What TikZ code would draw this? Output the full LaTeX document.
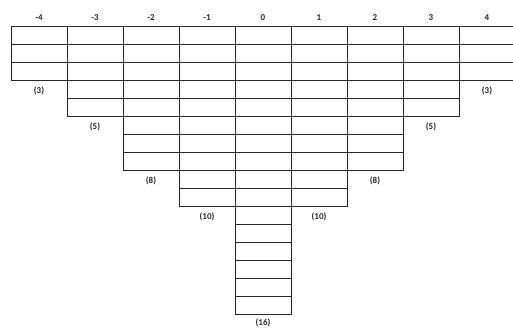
\documentclass[tikz,border=0pt]{standalone}
\usepackage{fontspec}
\setmainfont{Carlito}
\begin{document}
\begin{tikzpicture}[x=1pt,y=-1pt,
  cell/.style={draw=black!85,line width=0.8pt,rectangle,minimum width=56pt,minimum height=18pt,inner sep=0pt,outer sep=0pt},
  lbl/.style={font=\fontsize{9}{10}\selectfont\bfseries,text=black!85,inner sep=0pt}]
\useasboundingbox (0,0) rectangle (513,328);
\foreach \k/\n/\v/\dy [count=\i from 0] in {-4/3/{-4}/11,-3/5/{-3}/11,-2/8/{-2}/11,-1/10/{-1}/11,0/16/0/8.5,1/10/1/11,2/8/2/11,3/5/3/11,4/3/4/11}{
  \pgfmathsetmacro{\cx}{11+56*\i+28}
  \node[lbl] (h\i) at (\cx,18) {\v};
  \foreach \j in {1,...,\n}{
    \node[cell] (c\i-\j) at (\cx,{26+18*\j-9}) {};
  }
  \node[lbl] (b\i) at (\cx,{26+18*\n+\dy}) {(\n)};
}
\end{tikzpicture}
\end{document}
